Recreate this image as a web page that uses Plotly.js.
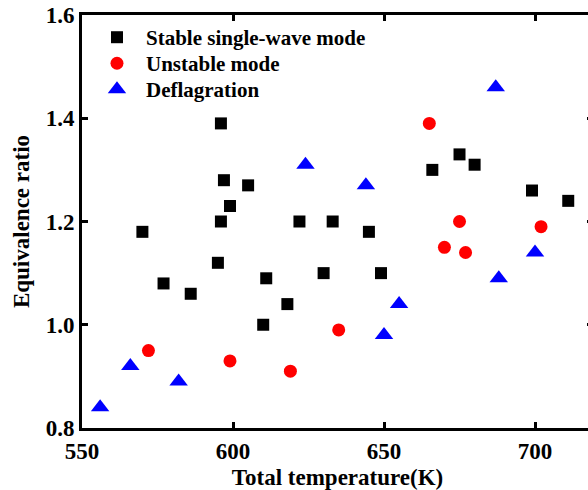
<!DOCTYPE html>
<html>
<head>
<meta charset="utf-8">
<script src="https://cdn.plot.ly/plotly-3.0.1.min.js"></script>
<style>
html, body { margin: 0; padding: 0; overflow: hidden; background: #fff; }
#chart { width: 594px; height: 490px; }
</style>
</head>
<body>
<div id="chart"></div>
<script>
// Stable single-wave mode
const stableT   = [570, 577, 586, 595, 596, 596, 597, 599, 605, 610, 611, 618, 622, 630, 633, 645, 649, 666, 675, 680, 699, 711];
const stablePhi = [1.18, 1.08, 1.06, 1.12, 1.20, 1.39, 1.28, 1.23, 1.27, 1.00, 1.09, 1.04, 1.20, 1.10, 1.20, 1.18, 1.10, 1.30, 1.33, 1.31, 1.26, 1.24];
// Unstable mode
const unstableT   = [572, 599, 619, 635, 665, 670, 675, 677, 702];
const unstablePhi = [0.95, 0.93, 0.91, 0.99, 1.39, 1.15, 1.20, 1.14, 1.19];
// Deflagration
const deflagT   = [556, 566, 582, 624, 644, 650, 655, 687, 688, 700];
const deflagPhi = [0.84, 0.92, 0.89, 1.31, 1.27, 0.98, 1.04, 1.46, 1.09, 1.14];

const seriesNames = ['Stable single-wave mode', 'Unstable mode', 'Deflagration'];
const xTicks = [550, 600, 650, 700];
const yTicks = [0.8, 1.0, 1.2, 1.4, 1.6];

const FONT = '"Liberation Serif", "Times New Roman", serif';

const traces = [
  { x: stableT, y: stablePhi, name: seriesNames[0], type: 'scatter', mode: 'markers', legend: 'legend',
    marker: { symbol: 'square', size: 12, color: '#000000' } },
  { x: unstableT, y: unstablePhi, name: seriesNames[1], type: 'scatter', mode: 'markers', legend: 'legend2',
    marker: { symbol: 'circle', size: 13, color: '#ff0000' } },
  { x: deflagT, y: deflagPhi, name: seriesNames[2], type: 'scatter', mode: 'markers', legend: 'legend3',
    marker: { symbol: 'triangle-up', size: 16, color: '#0000ff' } }
];

const axisCommon = {
  showgrid: false, zeroline: false,
  showline: true, linecolor: '#000', linewidth: 3,
  mirror: 'ticks', ticks: 'inside', ticklen: 6, tickwidth: 3, tickcolor: '#000',
  tickfont: { family: FONT, size: 23, color: '#000', weight: 'bold' }
};

function legendAt(y) {
  return {
    x: 0.0117, y: y, xanchor: 'left', yanchor: 'top',
    bgcolor: 'rgba(0,0,0,0)', borderwidth: 0,
    itemwidth: 48,
    font: { family: FONT, size: 21, color: '#000', weight: 'bold' }
  };
}

const layout = {
  width: 594, height: 490,
  margin: { l: 82, r: 1, t: 15, b: 62 },
  paper_bgcolor: '#fff', plot_bgcolor: '#fff',
  showlegend: true,
  legend: legendAt(0.995),
  legend2: legendAt(0.932),
  legend3: legendAt(0.869),
  xaxis: Object.assign({}, axisCommon, {
    range: [550, 719.2], tickvals: xTicks, ticktext: xTicks.map(String),
    title: { text: 'Total temperature(K)', standoff: 12,
             font: { family: FONT, size: 23, color: '#000', weight: 'bold' } }
  }),
  yaxis: Object.assign({}, axisCommon, {
    range: [0.8, 1.6], tickvals: yTicks, ticktext: yTicks.map(v => v.toFixed(1)),
    title: { text: 'Equivalence ratio', standoff: 10,
             font: { family: FONT, size: 23, color: '#000', weight: 'bold' } }
  })
};

Plotly.newPlot('chart', traces, layout, { displayModeBar: false, staticPlot: true });
</script>
</body>
</html>
